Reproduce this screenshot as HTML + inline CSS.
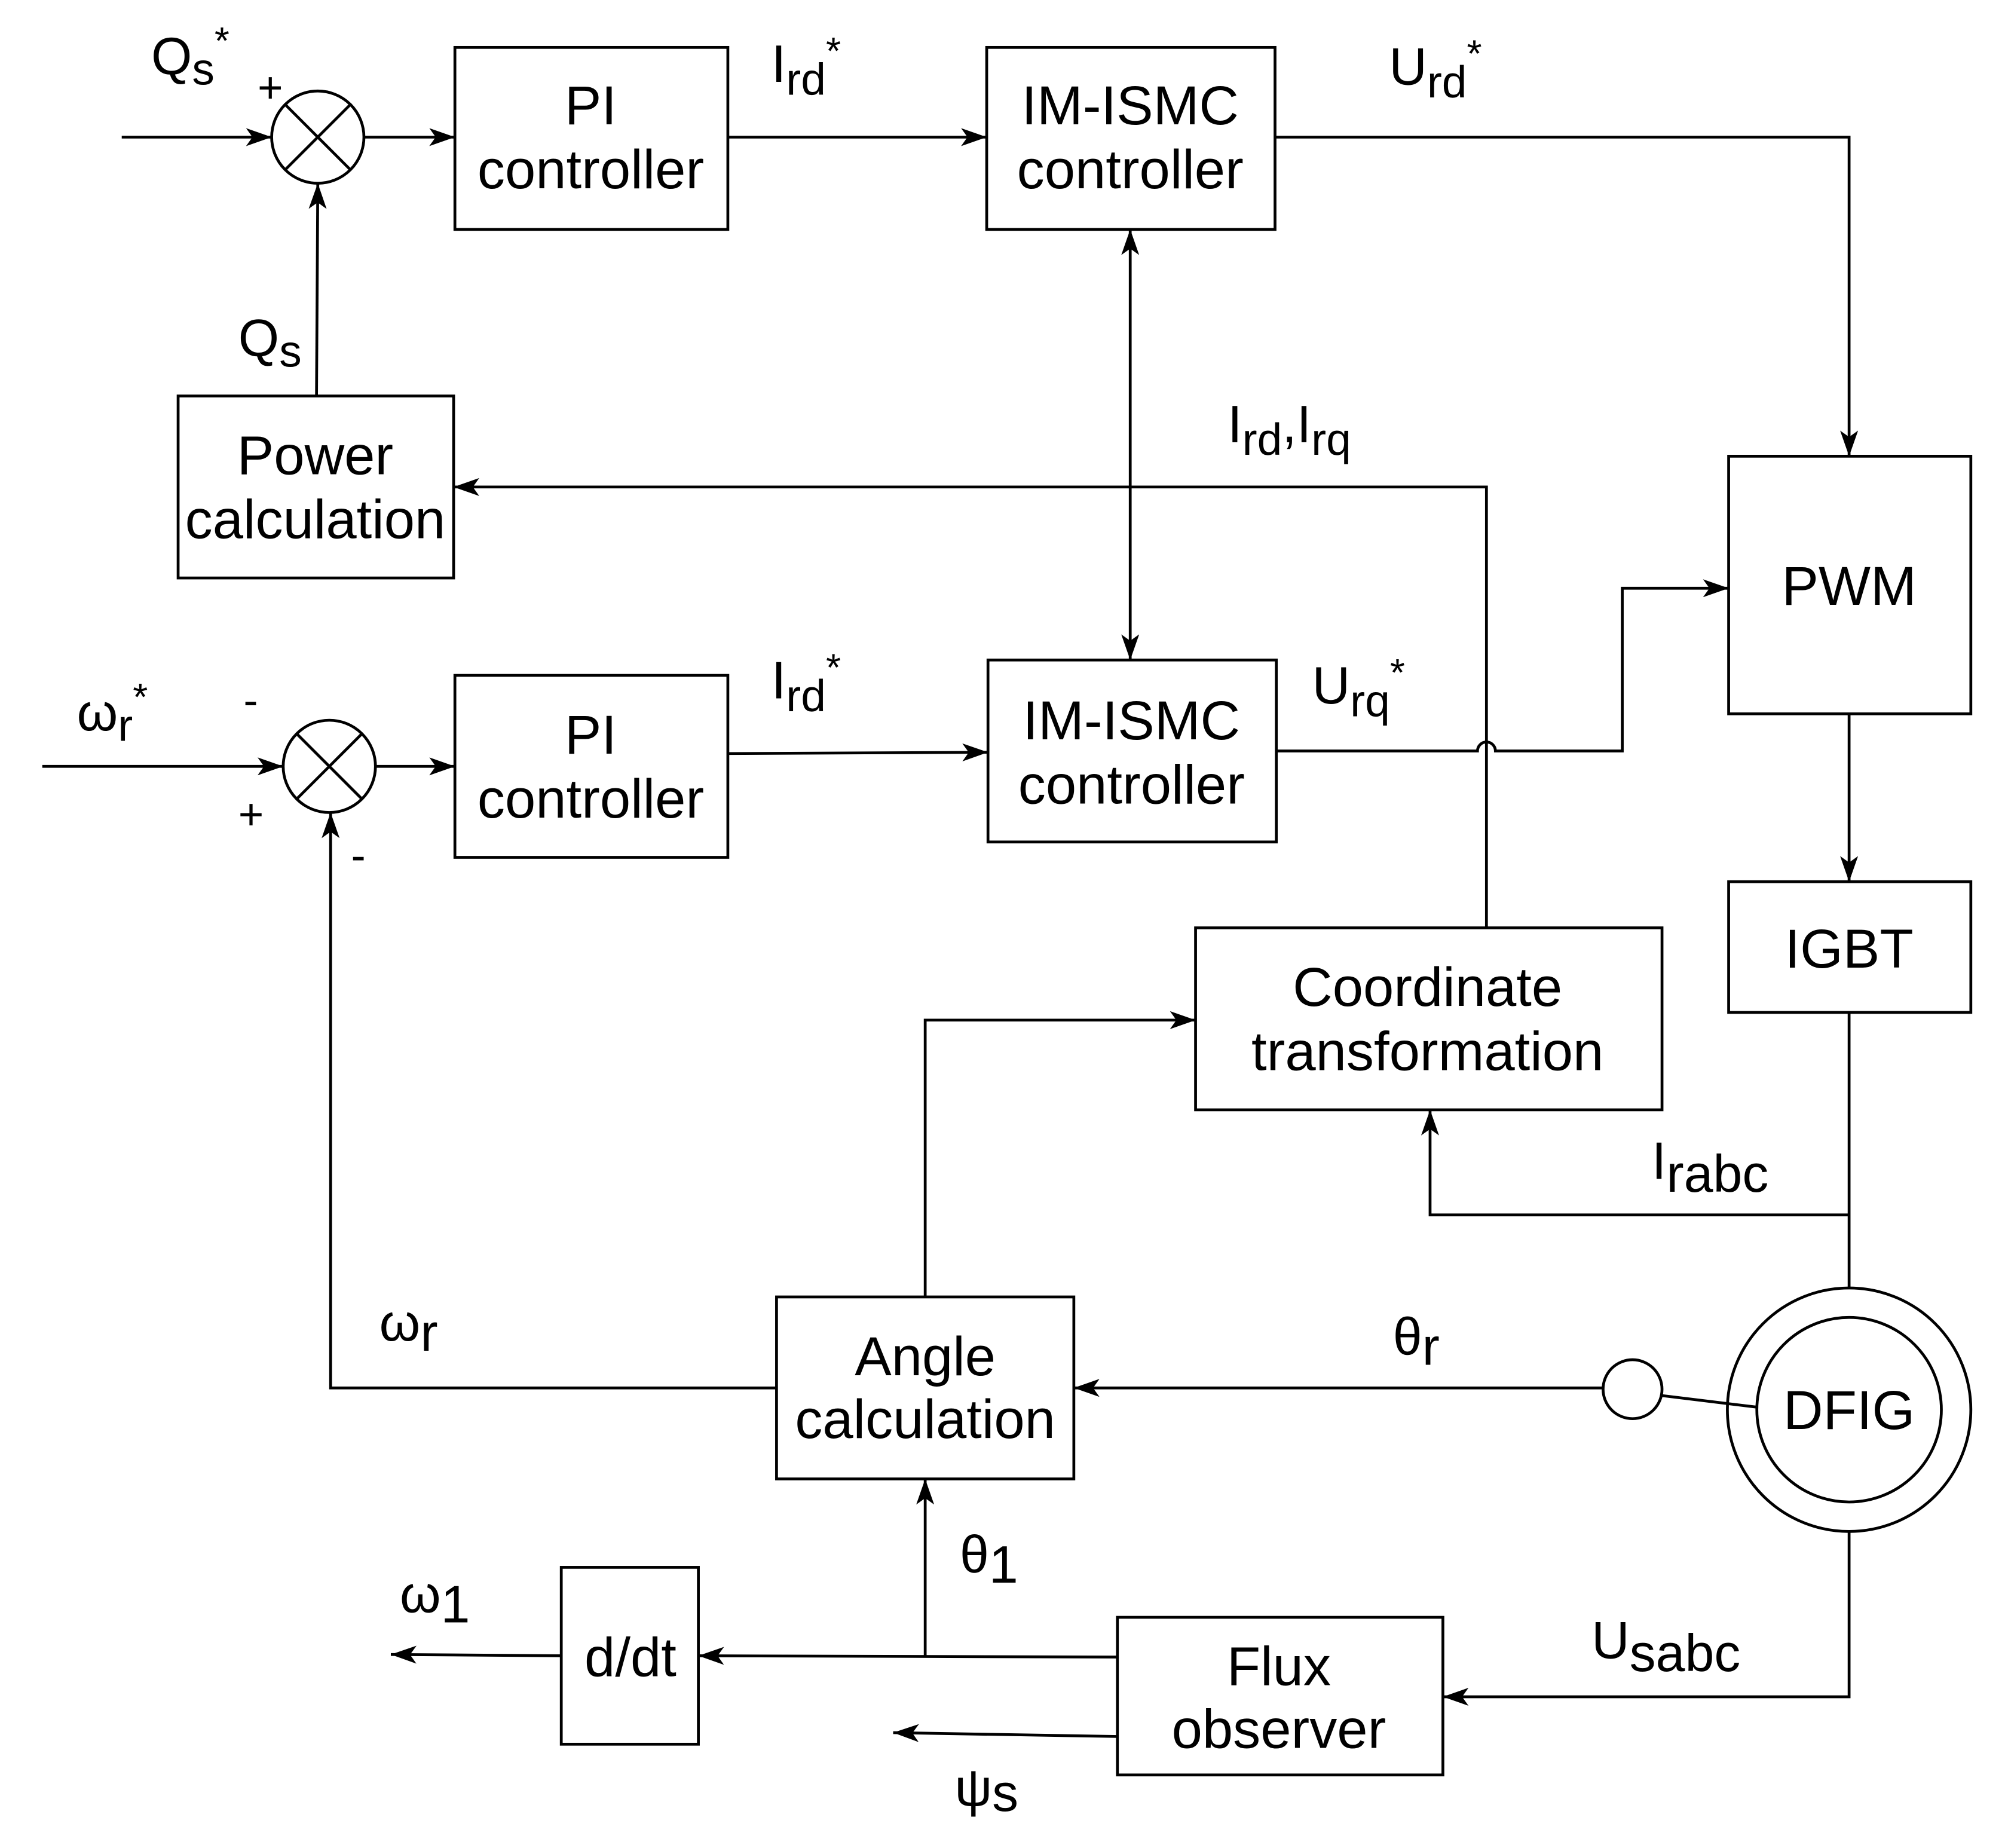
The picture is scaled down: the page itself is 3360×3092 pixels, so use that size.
<!DOCTYPE html>
<html><head><meta charset="utf-8"><style>
html,body{margin:0;padding:0;background:#fff;}
svg{display:block;}
text{font-family:"Liberation Sans",Arial,sans-serif;fill:#000;}
</style></head><body>
<svg width="3360" height="3092" viewBox="0 0 1567 1442" preserveAspectRatio="none" xmlns="http://www.w3.org/2000/svg">
<defs>
<marker id="a" viewBox="0 0 20 14" refX="20" refY="7" markerWidth="20" markerHeight="14" markerUnits="userSpaceOnUse" orient="auto-start-reverse">
<path d="M0,0 L20,7 L0,14 L5,7 z" fill="#000"/>
</marker>
</defs>
<g fill="none" stroke="#000" stroke-width="2.2">
<rect x="355" y="37" width="213" height="142"/>
<rect x="770" y="37" width="225" height="142"/>
<rect x="139" y="309" width="215" height="142"/>
<rect x="1349" y="356" width="189" height="201"/>
<rect x="355" y="527" width="213" height="142"/>
<rect x="771" y="515" width="225" height="142"/>
<rect x="1349" y="688" width="189" height="102"/>
<rect x="933" y="724" width="364" height="142"/>
<rect x="606" y="1012" width="232" height="142"/>
<rect x="872" y="1262" width="254" height="123"/>
<rect x="438" y="1223" width="107" height="138"/>
<circle cx="248" cy="107" r="36"/>
<line x1="222.5" y1="81.5" x2="273.5" y2="132.5"/><line x1="273.5" y1="81.5" x2="222.5" y2="132.5"/>
<circle cx="257" cy="598" r="36"/>
<line x1="231.5" y1="572.5" x2="282.5" y2="623.5"/><line x1="282.5" y1="572.5" x2="231.5" y2="623.5"/>
<circle cx="1443" cy="1100" r="95"/>
<circle cx="1443" cy="1100" r="72"/>
<circle cx="1274" cy="1084" r="23"/>
<line x1="95" y1="107" x2="212" y2="107" marker-end="url(#a)"/>
<line x1="284" y1="107" x2="355" y2="107" marker-end="url(#a)"/>
<line x1="568" y1="107" x2="770" y2="107" marker-end="url(#a)"/>
<polyline points="995,107 1443,107 1443,356" marker-end="url(#a)"/>
<line x1="247" y1="309" x2="248" y2="143" marker-end="url(#a)"/>
<polyline points="1160,724 1160,380 354,380" marker-end="url(#a)"/>
<line x1="882" y1="179" x2="882" y2="515" marker-start="url(#a)" marker-end="url(#a)"/>
<line x1="33" y1="598" x2="221" y2="598" marker-end="url(#a)"/>
<line x1="293" y1="598" x2="355" y2="598" marker-end="url(#a)"/>
<line x1="568" y1="588" x2="771" y2="587" marker-end="url(#a)"/>
<path d="M996,586 L1153,586 A7,7 0 0 1 1167,586 L1266,586 L1266,459 L1349,459" marker-end="url(#a)"/>
<line x1="1443" y1="557" x2="1443" y2="688" marker-end="url(#a)"/>
<line x1="1443" y1="790" x2="1443" y2="1005"/>
<polyline points="1443,948 1116,948 1116,866" marker-end="url(#a)"/>
<line x1="1297" y1="1089" x2="1371" y2="1098"/>
<line x1="1251" y1="1083" x2="838" y2="1083" marker-end="url(#a)"/>
<polyline points="722,1012 722,796 933,796" marker-end="url(#a)"/>
<polyline points="606,1083 258,1083 258,634" marker-end="url(#a)"/>
<polyline points="1443,1195 1443,1324 1126,1324" marker-end="url(#a)"/>
<line x1="872" y1="1293" x2="545" y2="1292" marker-end="url(#a)"/>
<line x1="722" y1="1293" x2="722" y2="1154" marker-end="url(#a)"/>
<line x1="438" y1="1292" x2="305" y2="1291" marker-end="url(#a)"/>
<line x1="872" y1="1355" x2="697" y2="1352" marker-end="url(#a)"/>
</g>
<g font-size="43" text-anchor="middle">
<text x="461" y="97">PI</text><text x="461" y="147">controller</text>
<text x="882" y="97">IM-ISMC</text><text x="882" y="147">controller</text>
<text x="246" y="370">Power</text><text x="246" y="420">calculation</text>
<text x="1443" y="472">PWM</text>
<text x="461" y="588">PI</text><text x="461" y="638">controller</text>
<text x="883" y="577">IM-ISMC</text><text x="883" y="627">controller</text>
<text x="1443" y="755">IGBT</text>
<text x="1114" y="785">Coordinate</text><text x="1114" y="835">transformation</text>
<text x="1443" y="1115">DFIG</text>
<text x="722" y="1073">Angle</text><text x="722" y="1122">calculation</text>
<text x="998" y="1315">Flux</text><text x="998" y="1364">observer</text>
<text x="492" y="1308">d/dt</text>
</g>
<g font-size="41">
<text x="118" y="58">Q<tspan font-size="35" dy="8">s</tspan><tspan font-size="30" dy="-24">*</tspan></text>
<text x="201" y="80" font-size="34">+</text>
<text x="602" y="64">I<tspan font-size="35" dy="10">rd</tspan><tspan font-size="30" dy="-24">*</tspan></text>
<text x="1084" y="66">U<tspan font-size="35" dy="10">rd</tspan><tspan font-size="30" dy="-24">*</tspan></text>
<text x="186" y="278">Q<tspan font-size="35" dy="8">s</tspan></text>
<text x="958" y="345">I<tspan font-size="35" dy="10">rd</tspan><tspan dy="-10">,I</tspan><tspan font-size="35" dy="10">rq</tspan></text>
<text x="60" y="570">ω<tspan font-size="35" dy="8">r</tspan><tspan font-size="30" dy="-24">*</tspan></text>
<text x="190" y="558" font-size="34">-</text>
<text x="186" y="647" font-size="34">+</text>
<text x="274" y="679" font-size="34">-</text>
<text x="602" y="545">I<tspan font-size="35" dy="10">rd</tspan><tspan font-size="30" dy="-24">*</tspan></text>
<text x="1024" y="549">U<tspan font-size="35" dy="10">rq</tspan><tspan font-size="30" dy="-24">*</tspan></text>
<text x="1289" y="920">I<tspan font-size="41" dy="10">rabc</tspan></text>
<text x="1087" y="1057">θ<tspan font-size="41" dy="8">r</tspan></text>
<text x="296" y="1046">ω<tspan font-size="41" dy="8">r</tspan></text>
<text x="749" y="1227">θ<tspan font-size="41" dy="8">1</tspan></text>
<text x="312" y="1258">ω<tspan font-size="41" dy="8">1</tspan></text>
<text x="1242" y="1294">U<tspan font-size="41" dy="10">sabc</tspan></text>
<text x="745" y="1409">ψ<tspan font-size="41" dy="4">s</tspan></text>
</g>
</svg>
</body></html>
